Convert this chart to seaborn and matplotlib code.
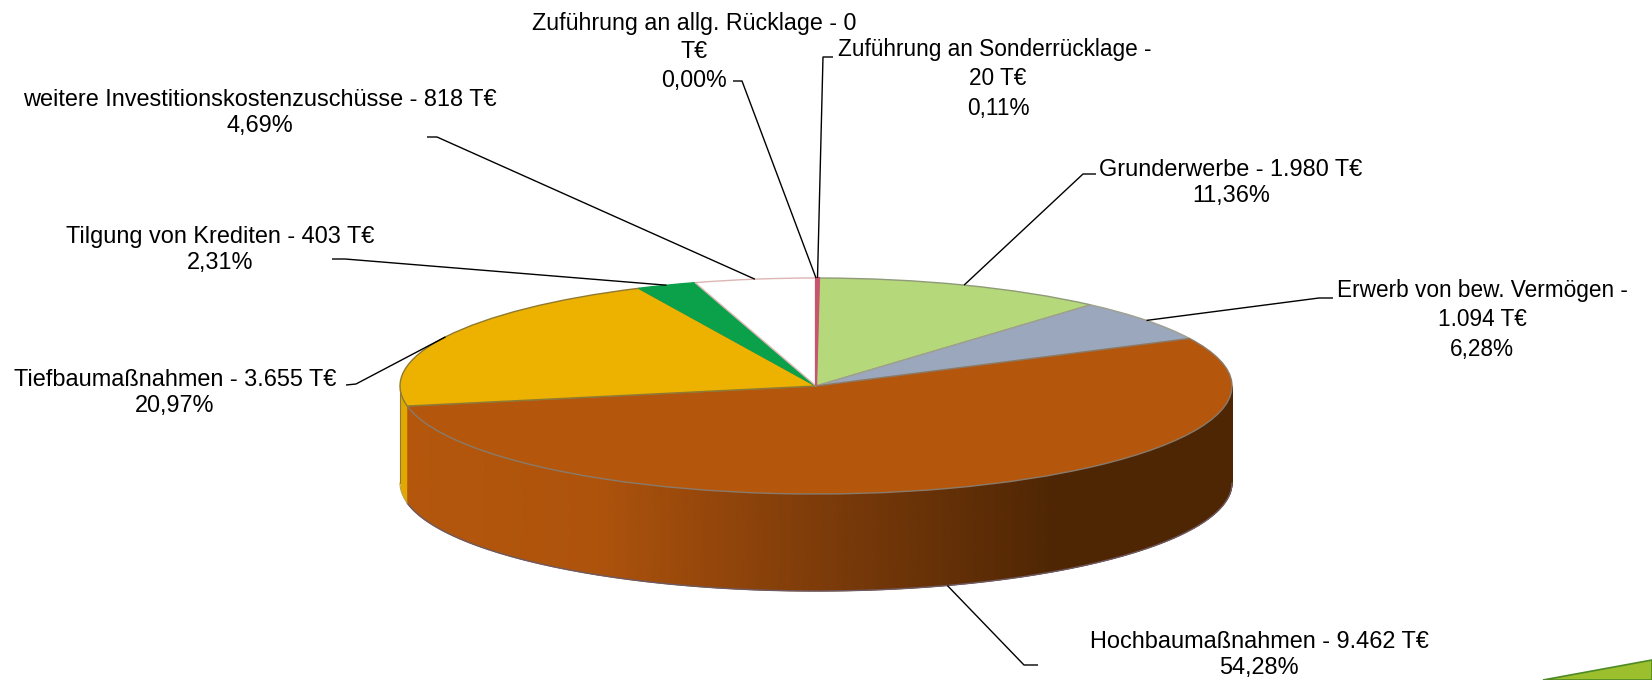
import numpy as np
import matplotlib
matplotlib.use("Agg")
import matplotlib.pyplot as plt
from matplotlib.colors import LinearSegmentedColormap
from matplotlib.patches import Polygon
import seaborn as sns

# ---- data (clockwise from 12 o'clock) ----
names = ["Zuführung an Sonderrücklage", "Grunderwerbe", "Erwerb von bew. Vermögen",
         "Hochbaumaßnahmen", "Tiefbaumaßnahmen", "Tilgung von Krediten",
         "weitere Investitionskostenzuschüsse", "Zuführung an allg. Rücklage"]
values = [20, 1980, 1094, 9462, 3655, 403, 818, 0]
amount_text = ["20 T€", "1.980 T€", "1.094 T€", "9.462 T€", "3.655 T€", "403 T€", "818 T€", "0 T€"]
percent_text = ["0,11%", "11,36%", "6,28%", "54,28%", "20,97%", "2,31%", "4,69%", "0,00%"]

# ---- styling / layout ----
W, H = 1652, 680
CX, CY, RX, RY, DEPTH = 816, 386, 416, 108, 97
colors = sns.color_palette(["#C8556E", "#B5D87A", "#9AA7BC", "#B4570D",
                            "#EDB100", "#0AA14A", "#FFFFFF", "#DDB5B5"])
edges = ["#C8556E", "#8F9A78", "#A0A090", "#8A7A6A", "#8F7A30", "#0AA14A", "#DDB5B5", "#DDB5B5"]
label_breaks = [" - \n", " - ", " -\n", " - ", " - ", " - ", " - ", " - "]
label_xy = [(998, 79), (1231, 183), (1482, 320), (1259, 655),
            (175, 393), (220, 250), (260, 113), (694, 52)]
label_sizes = [16.3, 16.95, 16.3, 16.95, 16.95, 16.95, 16.95, 16.75]
elbows = [[(833, 57), (823, 57)], [(1096, 174), (1083, 174)], [(1333, 298), (1319, 298)],
          [(1038, 665), (1024, 665)], [(346, 385), (356, 384)], [(332, 259), (345, 259)],
          [(427, 137), (437, 137)], [(733, 81), (742, 81)]]

sns.set_theme(style="white")
plt.rcParams["font.family"] = ["Liberation Sans", "DejaVu Sans"]

fig = plt.figure(figsize=(W / 100, H / 100), dpi=100, facecolor="white")
ax = fig.add_axes([0, 0, 1, 1])


def dx(px):
    return (np.asarray(px, float) - CX) / RX


def dy(py):
    return (CY - np.asarray(py, float)) / RY


shares = np.array(values, float) / sum(values)
cum = np.concatenate([[0], np.cumsum(shares)])
depth = DEPTH / RY

# side wall: every wedge's part that faces the viewer
brown = LinearSegmentedColormap.from_list(
    "wall", [(0, "#B4570D"), (0.28, "#AE530C"), (0.62, "#7E3C0A"), (0.98, "#4F2604"), (1, "#4F2604")])
for i, c in enumerate(colors):
    a0, a1 = cum[i] * 2 * np.pi, cum[i + 1] * 2 * np.pi
    lo, hi = max(a0, np.pi / 2), min(a1, 3 * np.pi / 2)
    if hi <= lo:
        continue
    t = np.linspace(lo, hi, 200)
    x, y = np.sin(t), np.cos(t)
    if i == int(np.argmax(values)):
        X = np.vstack([x, x])
        Y = np.vstack([y, y - depth])
        ax.pcolormesh(X, Y, (X - dx(407)) / (dx(1070) - dx(407)), cmap=brown, vmin=0, vmax=1,
                      shading="gouraud", zorder=1)
        ax.plot(x, y - depth, color="#6E5A62", lw=1, zorder=2)
        ax.plot([x[-1]] * 2, [y[-1], y[-1] - depth], color=c, lw=0.5, zorder=2)
    else:
        ax.fill_between(x, y, y - depth, color="#E0A800", lw=0, zorder=1)
        ax.plot(x, y - depth, color="#B8A040", lw=0.8, zorder=2)
        ax.plot(x[-1:].repeat(2), [y[-1], y[-1] - depth], color="#8F7A30", lw=0.8, zorder=2)

# top face
wedges, _ = ax.pie(values, colors=colors, startangle=90, counterclock=False, radius=1,
                   center=(0, 0), wedgeprops={"linewidth": 1.0})
for i, (w, e, v) in enumerate(zip(wedges, edges, values)):
    w.set_edgecolor(e)
    w.set_zorder(3)
    if v == 0:
        w.set_visible(False)
    if i == 0:
        w.set_zorder(3.5)
        w.set_linewidth(1.6)
ax.set_aspect("auto")
ax.set_xlim(dx(0), dx(W))
ax.set_ylim(dy(H), dy(0))
ax.set_frame_on(False)

# leader lines and labels
for i in range(len(values)):
    mid = (cum[i] + cum[i + 1]) / 2 * 2 * np.pi
    ax_, ay_ = np.sin(mid), np.cos(mid)
    if np.cos(mid) < 0:
        ay_ -= depth
    e = elbows[i]
    ax.plot([dx(e[0][0]), dx(e[1][0]), ax_], [dy(e[0][1]), dy(e[1][1]), ay_],
            color="black", lw=1.0, zorder=4, solid_capstyle="butt")
    label = f"{names[i]}{label_breaks[i]}{amount_text[i]}\n{percent_text[i]}"
    if i == 7:
        label = f"{names[i]} - 0\nT€\n{percent_text[i]}"
    ax.text(dx(label_xy[i][0]), dy(label_xy[i][1]), label, ha="center", va="center",
            fontsize=label_sizes[i], color="black", linespacing=1.29 * 16.95 / label_sizes[i],
            zorder=5)

# corner decoration of the slide
ax.add_patch(Polygon(np.column_stack([dx([1543, W, W]), dy([H, 660, H])]),
                     closed=True, facecolor="#9CBF2E", edgecolor="#4E8A24", lw=1.2, zorder=2,
                     clip_on=True))

fig.savefig("out.png", dpi=100, facecolor="white")
